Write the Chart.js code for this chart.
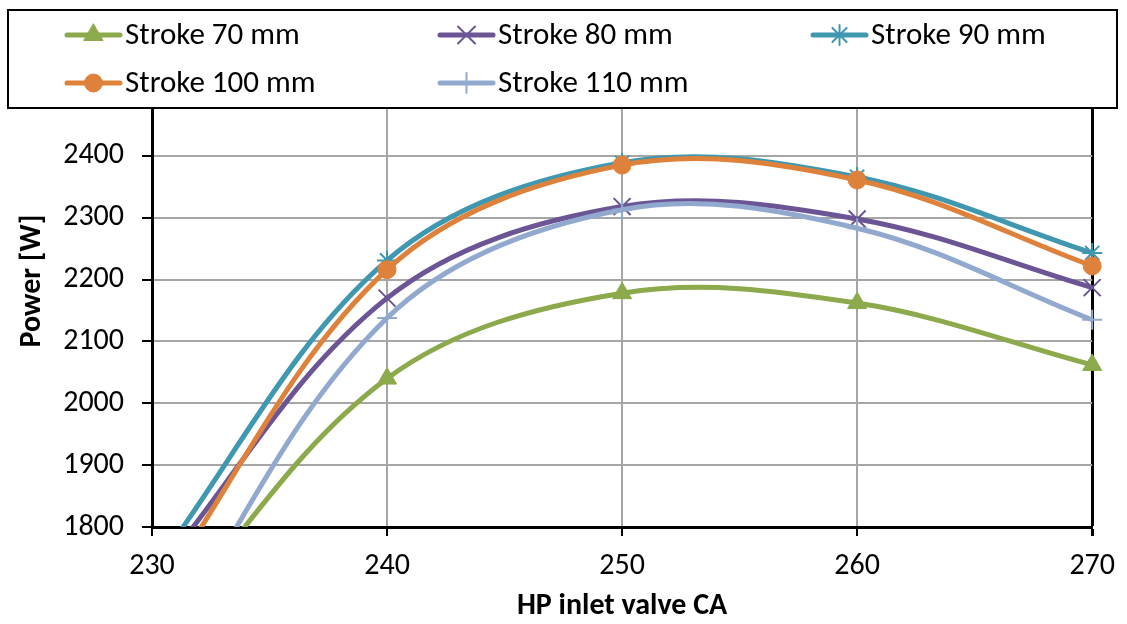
<!DOCTYPE html>
<html lang="en">
<head>
<meta charset="UTF-8">
<title>Power vs HP inlet valve CA</title>
<script src="https://cdn.jsdelivr.net/npm/chart.js"></script>
<style>
  html, body { margin: 0; padding: 0; background: #fff; }
  #wrap { width: 1127px; height: 624px; position: relative; }
</style>
</head>
<body>
<div id="wrap"><canvas id="chart"></canvas></div>
<script>
// crank angle of the HP inlet valve
const valveCA = [230, 240, 250, 260, 270];

// power [W] per stroke length
const stroke70 = [1615, 2040, 2178, 2162, 2062];
const stroke80 = [1715, 2170, 2318, 2298, 2187];
const stroke90 = [1730, 2231, 2389, 2366, 2243];
const stroke100 = [1678, 2216, 2385, 2361, 2222];
const stroke110 = [1575, 2138, 2313, 2283, 2135];

const seriesNames = ['Stroke 70 mm', 'Stroke 80 mm', 'Stroke 90 mm', 'Stroke 100 mm', 'Stroke 110 mm'];

const FONT = "Carlito, 'Open Sans', Lato, sans-serif";

const styles = [
  { color: '#8CA94C', pointStyle: 'triangle', radius: 11, bw: 1 },
  { color: '#6B5594', pointStyle: 'crossRot', radius: 12, bw: 2 },
  { color: '#3F98AF', pointStyle: 'star', radius: 10, bw: 2 },
  { color: '#DE823B', pointStyle: 'circle', radius: 9, bw: 1 },
  { color: '#92A9CF', pointStyle: 'cross', radius: 10, bw: 2 }
];

const allSeries = [stroke70, stroke80, stroke90, stroke100, stroke110];

const datasets = allSeries.map((vals, i) => ({
  label: seriesNames[i],
  data: valveCA.map((x, j) => ({ x: x, y: vals[j] })),
  borderColor: styles[i].color,
  backgroundColor: styles[i].color,
  borderWidth: 5,
  tension: 0.35,
  pointStyle: styles[i].pointStyle,
  pointRadius: styles[i].radius,
  pointBorderWidth: styles[i].bw,
  pointBorderColor: styles[i].color,
  pointBackgroundColor: styles[i].color,
  order: allSeries.length - i,
  clip: { left: 0, top: 20, right: 20, bottom: 0 }
}));

// boxed legend over the top of the plot area, plus the y axis title
const boxLegend = {
  id: 'boxLegend',
  afterDraw(chart) {
    const ctx = chart.ctx;
    const slots = [
      { x: 67, y: 35 }, { x: 440, y: 35 }, { x: 813, y: 35 },
      { x: 67, y: 83 }, { x: 440, y: 83 }
    ];
    ctx.save();
    ctx.fillStyle = '#fff';
    ctx.fillRect(8, 10, 1109, 98);
    ctx.strokeStyle = '#000';
    ctx.lineWidth = 2;
    ctx.strokeRect(8, 10, 1109, 98);
    chart.data.datasets.forEach((ds, i) => {
      const s = slots[i];
      ctx.strokeStyle = ds.borderColor;
      ctx.lineWidth = 5;
      ctx.lineCap = 'round';
      ctx.beginPath();
      ctx.moveTo(s.x, s.y);
      ctx.lineTo(s.x + 53, s.y);
      ctx.stroke();
      ctx.fillStyle = ds.pointBackgroundColor;
      ctx.strokeStyle = ds.pointBorderColor;
      ctx.lineWidth = ds.pointBorderWidth;
      Chart.helpers.drawPoint(ctx, {
        pointStyle: ds.pointStyle,
        radius: ds.pointRadius,
        rotation: 0,
        borderWidth: ds.pointBorderWidth
      }, s.x + 26.5, s.y);
      ctx.fillStyle = '#000';
      ctx.font = '31px ' + FONT;
      ctx.textBaseline = 'middle';
      ctx.textAlign = 'left';
      ctx.fillText(ds.label, s.x + 58, s.y + 1);
    });

    ctx.translate(32, 281);
    ctx.rotate(-Math.PI / 2);
    ctx.font = 'bold 30px ' + FONT;
    ctx.fillStyle = '#000';
    ctx.textAlign = 'center';
    ctx.textBaseline = 'middle';
    ctx.fillText('Power [W]', 0, 0);
    ctx.restore();
  }
};

const ctx = document.getElementById('chart').getContext('2d');
const chart = new Chart(ctx, {
  type: 'line',
  data: { datasets: datasets },
  options: {
    responsive: true,
    maintainAspectRatio: false,
    animation: false,
    events: [],
    layout: { padding: { left: 0, right: 32, top: 94, bottom: 0 } },
    plugins: {
      legend: { display: false },
      tooltip: { enabled: false }
    },
    scales: {
      x: {
        type: 'linear',
        min: 230,
        max: 270,
        ticks: {
          stepSize: 10,
          color: '#000',
          font: { family: FONT, size: 30 },
          padding: 12
        },
        grid: {
          color: c => (c.tick && c.tick.value === 270 ? '#000' : '#a6a6a6'),
          lineWidth: c => (c.tick && c.tick.value === 270 ? 3 : 2),
          tickColor: '#000',
          tickLength: 9
        },
        border: { color: '#000', width: 3 },
        title: {
          display: true,
          text: 'HP inlet valve CA',
          color: '#000',
          font: { family: FONT, size: 30, weight: 'bold' },
          padding: { top: 4, bottom: 0 }
        },
        afterFit: s => { s.height = 97; }
      },
      y: {
        min: 1800,
        max: 2500,
        ticks: {
          stepSize: 100,
          color: '#000',
          font: { family: FONT, size: 30 },
          padding: 18,
          callback: v => (v > 2400 ? '' : v)
        },
        grid: {
          color: '#a6a6a6',
          lineWidth: 2,
          tickColor: '#000',
          tickLength: 10
        },
        border: { color: '#000', width: 3 },
        title: { display: false },
        afterFit: s => { s.width = 152; }
      }
    }
  },
  plugins: [boxLegend]
});
</script>
</body>
</html>
